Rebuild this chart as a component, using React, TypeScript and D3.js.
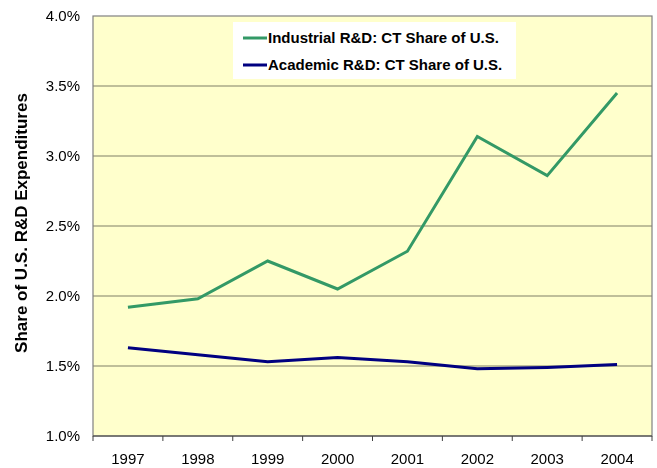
import { useEffect, useRef } from 'react';
import * as d3 from 'd3';

const YEARS = ['1997', '1998', '1999', '2000', '2001', '2002', '2003', '2004'];
const INDUSTRIAL = [1.92, 1.98, 2.25, 2.05, 2.32, 3.14, 2.86, 3.45];
const ACADEMIC = [1.63, 1.58, 1.53, 1.56, 1.53, 1.48, 1.49, 1.51];
const Y_TICKS = [1.0, 1.5, 2.0, 2.5, 3.0, 3.5, 4.0];
const SERIES = [
  { name: 'Industrial R&D: CT Share of U.S.', values: INDUSTRIAL, color: '#339966' },
  { name: 'Academic R&D: CT Share of U.S.', values: ACADEMIC, color: '#000080' },
];

const W = 657, H = 468;
const M = { top: 16, right: 5, bottom: 32, left: 93 };
const FONT = '"Liberation Sans", Arial, sans-serif';

export default function App() {
  const ref = useRef<SVGSVGElement>(null);
  useEffect(() => {
    const svg = d3.select(ref.current); svg.selectAll('*').remove();
    const x = d3.scaleBand().domain(YEARS).range([M.left, W - M.right]);
    const y = d3.scaleLinear().domain([1.0, 4.0]).range([H - M.bottom, M.top]);

    svg.append('rect').attr('x', M.left).attr('y', M.top)
      .attr('width', W - M.right - M.left).attr('height', H - M.bottom - M.top).attr('fill', '#ffffcc');

    svg.append('g').selectAll('line').data(Y_TICKS.slice(1, -1)).join('line')
      .attr('x1', M.left).attr('x2', W - M.right).attr('y1', d => y(d)).attr('y2', d => y(d))
      .attr('stroke', '#808066').attr('stroke-width', 1.2);

    svg.append('rect').attr('x', M.left).attr('y', M.top)
      .attr('width', W - M.right - M.left).attr('height', H - M.bottom - M.top)
      .attr('fill', 'none').attr('stroke', '#808080').attr('stroke-width', 1.2);

    // x axis line + ticks at category boundaries
    svg.append('line').attr('x1', M.left).attr('x2', W - M.right)
      .attr('y1', H - M.bottom).attr('y2', H - M.bottom).attr('stroke', '#404040').attr('stroke-width', 1.2);
    const bounds = YEARS.map(d => x(d)!).concat([W - M.right]);
    svg.append('g').selectAll('line').data(bounds).join('line')
      .attr('x1', d => d).attr('x2', d => d).attr('y1', H - M.bottom).attr('y2', H - M.bottom + 5)
      .attr('stroke', '#404040');

    svg.append('g').selectAll('text').data(YEARS).join('text')
      .attr('x', d => x(d)! + x.bandwidth() / 2).attr('y', 464)
      .attr('text-anchor', 'middle').attr('font-family', FONT).attr('font-size', 15).attr('fill', '#000')
      .text(d => d);

    svg.append('g').selectAll('text').data(Y_TICKS).join('text')
      .attr('x', 80).attr('y', d => y(d) + 5)
      .attr('text-anchor', 'end').attr('font-family', FONT).attr('font-size', 15).attr('fill', '#000')
      .text(d => d.toFixed(1) + '%');

    svg.append('text').attr('transform', `translate(27,223) rotate(-90)`)
      .attr('text-anchor', 'middle').attr('font-family', FONT).attr('font-size', 17).attr('font-weight', 'bold')
      .text('Share of U.S. R&D Expenditures');

    const line = d3.line<number>().x((_, i) => x(YEARS[i])! + x.bandwidth() / 2).y(d => y(d));
    SERIES.forEach(s => {
      svg.append('path').datum(s.values).attr('d', line).attr('fill', 'none')
        .attr('stroke', s.color).attr('stroke-width', 3).attr('stroke-linejoin', 'miter');
    });

    const lg = svg.append('g');
    lg.append('rect').attr('x', 233).attr('y', 22).attr('width', 283).attr('height', 57).attr('fill', '#fff');
    SERIES.forEach((s, i) => {
      const ly = 38 + i * 27;
      lg.append('line').attr('x1', 243).attr('x2', 267).attr('y1', ly).attr('y2', ly)
        .attr('stroke', s.color).attr('stroke-width', 3);
      lg.append('text').attr('x', 268).attr('y', ly + 5).attr('font-family', FONT).attr('font-size', 15)
        .attr('font-weight', 'bold').text(s.name);
    });
  }, []);
  return <svg ref={ref} width={W} height={H} style={{ position: 'fixed', left: 0, top: 0, display: 'block' }} />;
}
